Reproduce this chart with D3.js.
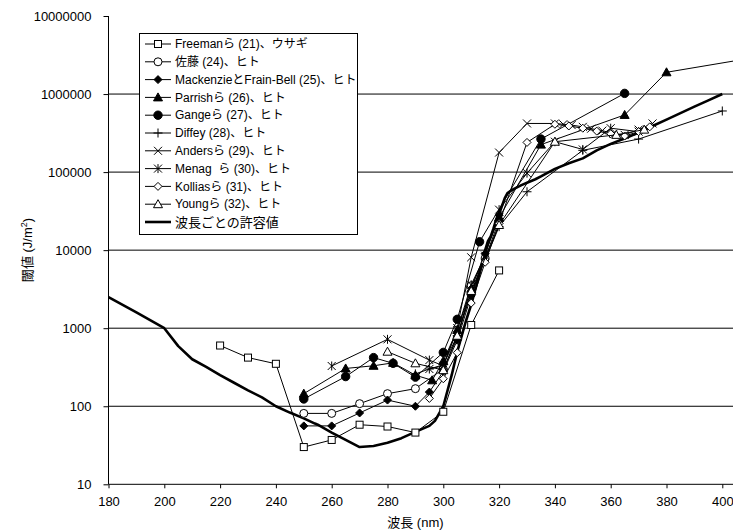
<!DOCTYPE html>
<html>
<head>
<meta charset="utf-8">
<script src="https://cdn.jsdelivr.net/npm/d3@7"></script>
<style>
  body { margin: 0; background: #fff; }
  svg { display: block; font-family: "Liberation Sans", "Noto Sans CJK JP", sans-serif; }
</style>
</head>
<body>
<div id="chart"></div>
<script>
// x: wavelength (nm), y: threshold (J/m2)
const xTicks = [180, 200, 220, 240, 260, 280, 300, 320, 340, 360, 380, 400];
const yTicks = [10, 100, 1000, 10000, 100000, 1000000, 10000000];

const freeman = [[220,600],[230,420],[240,350],[250,30],[260,37],[270,58],[280,55],[290,46],[300,85],[310,1100],[320,5500]];
const sato = [[250,81],[260,81],[270,108],[280,145],[290,168],[300,300],[305,750],[310,3500],[315,7900],[320,24000]];
const mackenzie = [[250,56],[260,56],[270,82],[280,120],[290,100],[295,152],[300,280],[305,700],[310,2600],[315,9000],[320,28000]];
const parrish = [[250,145],[265,305],[275,330],[282,360],[290,250],[296,215],[300,380],[305,950],[310,3200],[320,26000],[335,225000],[365,540000],[380,1900000],[420,3300000]];
const gange = [[250,124],[265,240],[275,420],[282,355],[290,236],[300,490],[305,1300],[313,12800],[335,265000],[365,1020000]];
const diffey = [[290,260],[295,300],[300,340],[305,800],[310,2800],[320,20000],[330,56000],[350,190000],[370,265000],[400,607000]];
const anders = [[295,300],[300,330],[305,1000],[310,8100],[320,178000],[330,420000],[340,420000],[343,410000],[346,400000],[350,380000],[353,360000],[357,340000],[361,310000],[365,300000],[370,350000],[375,420000]];
const menag = [[260,328],[280,720],[295,390],[300,330],[305,950],[310,3600],[315,8500],[320,33000],[330,97000],[340,245000],[350,195000],[360,365000],[370,330000]];
const kollias = [[295,126],[300,225],[305,486],[310,2100],[315,7000],[320,22000],[330,240000],[340,410000],[345,390000],[350,365000],[355,335000],[360,310000],[365,290000],[370,330000],[374,380000]];
const young = [[280,500],[290,355],[300,290],[305,800],[310,3000],[320,21000],[340,245000],[362,300000],[372,350000]];
const limit = [[180,2500],[190,1600],[200,1000],[205,590],[210,400],[215,320],[220,250],[225,200],[230,160],[235,130],[240,100],[245,83],[250,70],[254,60],[255,58],[260,46],[265,37],[270,30],[275,31],[280,34],[285,39],[290,47],[295,56],[297,65],[300,100],[303,250],[305,500],[308,1200],[310,2000],[313,5000],[315,10000],[316,13000],[317,15000],[318,19000],[319,25000],[320,29000],[322,46000],[323,54000],[325,60000],[328,68000],[330,73000],[333,81000],[335,88000],[340,110000],[345,130000],[350,150000],[355,190000],[360,230000],[365,270000],[370,320000],[375,390000],[380,470000],[385,570000],[390,690000],[395,830000],[400,1000000]];

const seriesNames = ["Freemanら (21)、ウサギ", "佐藤 (24)、ヒト", "MackenzieとFrain-Bell (25)、ヒト", "Parrishら (26)、ヒト", "Gangeら (27)、ヒト", "Diffey (28)、ヒト", "Andersら (29)、ヒト", "Menag\u00a0\u00a0ら (30)、ヒト", "Kolliasら (31)、ヒト", "Youngら (32)、ヒト"];
const seriesData = [freeman, sato, mackenzie, parrish, gange, diffey, anders, menag, kollias, young];
const seriesMarks = ["square", "circle", "diamondF", "triangleF", "circleF", "plus", "cross", "star", "diamond", "triangle"];
const limitName = "波長ごとの許容値";

const width = 733, height = 532;
const svg = d3.select("#chart").append("svg").attr("width", width).attr("height", height);

const x = d3.scaleLinear().domain([180, 400]).range([108.5, 722.3]);
const y = d3.scaleLog().domain([10, 10000000]).range([484.3, 16]);

// gridlines
svg.append("g").selectAll("line")
  .data(yTicks.slice(1, -1))
  .enter().append("line")
  .attr("x1", x(180)).attr("x2", width)
  .attr("y1", d => y(d)).attr("y2", d => y(d))
  .style("stroke", "#000").style("stroke-width", 1);

// axes
const yAxis = svg.append("g").attr("transform", `translate(${x(180)},0)`)
  .call(d3.axisLeft(y).tickValues(yTicks).tickFormat(d3.format("d")).tickSize(5).tickPadding(12));
yAxis.select(".domain").attr("d", `M0,${y(10)}V${y(10000000)}`);

const xAxis = svg.append("g").attr("transform", `translate(0,${y(10)})`)
  .call(d3.axisBottom(x).tickValues(xTicks).tickSize(4).tickPadding(8));
xAxis.select(".domain").attr("d", `M${x(180)},0H${width}`);

svg.selectAll(".tick text").style("font-size", "13px").style("font-family", "'Liberation Sans', sans-serif").attr("fill", "#000");
svg.selectAll(".tick line, .domain").style("stroke", "#000");

// axis titles
svg.append("text")
  .attr("x", x(290)).attr("y", 527)
  .attr("text-anchor", "middle")
  .style("font-size", "13px")
  .text("波長 (nm)");

const yTitle = svg.append("text")
  .attr("transform", "translate(32,250) rotate(-90)")
  .attr("text-anchor", "middle")
  .style("font-size", "13px");
yTitle.append("tspan").text("閾値 (J/m");
yTitle.append("tspan").attr("dy", -5).style("font-size", "9px").text("2");
yTitle.append("tspan").attr("dy", 5).text(")");

// marker shapes
function marker(sel, kind) {
  const s = 4;
  if (kind === "square" || kind === "squareF") {
    sel.append("rect").attr("x", -3.5).attr("y", -3.5).attr("width", 7).attr("height", 7)
      .attr("fill", kind === "squareF" ? "#000" : "#fff").attr("stroke", "#000");
  } else if (kind === "circle" || kind === "circleF") {
    sel.append("circle").attr("r", kind === "circleF" ? 4.2 : 4)
      .attr("fill", kind === "circleF" ? "#000" : "#fff").attr("stroke", "#000");
  } else if (kind === "diamond" || kind === "diamondF") {
    sel.append("path").attr("d", `M0,${-s}L${s},0L0,${s}L${-s},0Z`)
      .attr("fill", kind === "diamondF" ? "#000" : "#fff").attr("stroke", "#000");
  } else if (kind === "triangle" || kind === "triangleF") {
    sel.append("path").attr("d", `M0,-4.5L4.5,3.5L-4.5,3.5Z`)
      .attr("fill", kind === "triangleF" ? "#000" : "#fff").attr("stroke", "#000");
  } else if (kind === "plus") {
    sel.append("path").attr("d", "M-4.5,0H4.5M0,-4.5V4.5").attr("stroke", "#000").attr("fill", "none");
  } else if (kind === "cross") {
    sel.append("path").attr("d", "M-4,-4L4,4M-4,4L4,-4").attr("stroke", "#000").attr("fill", "none");
  } else if (kind === "star") {
    sel.append("path").attr("d", "M-4,-4L4,4M-4,4L4,-4M0,-4.5V4.5").attr("stroke", "#000").attr("fill", "none");
  }
}

const line = d3.line().x(d => x(d[0])).y(d => y(d[1]));

// limit curve
svg.append("path").datum(limit)
  .attr("d", line)
  .attr("fill", "none").attr("stroke", "#000").attr("stroke-width", 2.6)
  .attr("stroke-linejoin", "round");

// study series
seriesData.forEach((data, i) => {
  const g = svg.append("g");
  g.append("path").datum(data)
    .attr("d", line)
    .attr("fill", "none").attr("stroke", "#000").attr("stroke-width", 1);
  g.selectAll("g.pt").data(data).enter().append("g")
    .attr("class", "pt")
    .attr("transform", d => `translate(${x(d[0])},${y(d[1])})`)
    .each(function() { marker(d3.select(this), seriesMarks[i]); });
});

// legend
const lg = svg.append("g");
lg.append("rect").attr("x", 139.5).attr("y", 33.5).attr("width", 218).attr("height", 201)
  .attr("fill", "#fff").attr("stroke", "#000");
const rowY = i => 44 + i * 17.8;
seriesNames.forEach((name, i) => {
  lg.append("line").attr("x1", 145).attr("x2", 171).attr("y1", rowY(i)).attr("y2", rowY(i))
    .attr("stroke", "#000");
  marker(lg.append("g").attr("transform", `translate(158,${rowY(i)})`), seriesMarks[i]);
  lg.append("text").attr("x", 175).attr("y", rowY(i)).attr("dy", "0.35em")
    .style("font-size", "12px").text(name);
});
lg.append("line").attr("x1", 145).attr("x2", 171).attr("y1", rowY(10)).attr("y2", rowY(10))
  .attr("stroke", "#000").attr("stroke-width", 2.6);
lg.append("text").attr("x", 175).attr("y", rowY(10)).attr("dy", "0.35em")
  .style("font-size", "13px").text(limitName);
</script>
</body>
</html>
